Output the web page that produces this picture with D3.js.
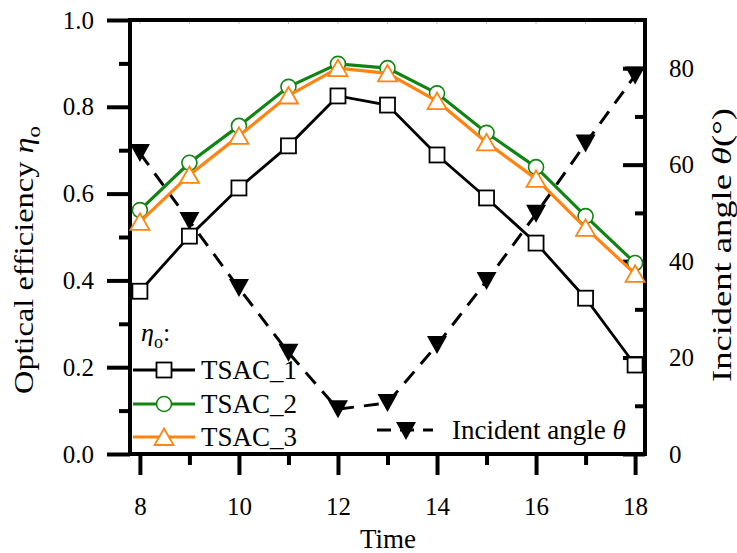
<!DOCTYPE html>
<html>
<head>
<meta charset="utf-8">
<script src="https://cdn.jsdelivr.net/npm/d3@7"></script>
<style>
  body { margin: 0; background: #fff; }
  svg { font-family: "Liberation Serif", "Times New Roman", serif; }
</style>
</head>
<body>
<svg id="chart"></svg>
<script>
// chart.js

const width = 737;
const height = 553;

// data
const times = [8, 9, 10, 11, 12, 13, 14, 15, 16, 17, 18];
const tsac1 = [0.375, 0.502, 0.613, 0.710, 0.825, 0.804, 0.689, 0.590, 0.486, 0.359, 0.205];
const tsac2 = [0.562, 0.671, 0.756, 0.846, 0.899, 0.889, 0.831, 0.740, 0.661, 0.548, 0.440];
const tsac3 = [0.535, 0.643, 0.733, 0.826, 0.889, 0.877, 0.813, 0.718, 0.634, 0.521, 0.415];
const angle = [62.4, 48.3, 34.4, 21.0, 9.3, 10.6, 22.6, 35.9, 49.8, 64.4, 78.5];

const xMajor = [8, 10, 12, 14, 16, 18];
const xMinor = [9, 11, 13, 15, 17];
const yLeftMajor = [0, 0.2, 0.4, 0.6, 0.8, 1.0];
const yLeftMinor = [0.1, 0.3, 0.5, 0.7, 0.9];
const yRightMajor = [0, 20, 40, 60, 80];
const yRightMinor = [10, 30, 50, 70];

const seriesNames = ["TSAC_1", "TSAC_2", "TSAC_3"];
const seriesColors = ["#000000", "#128412", "#ff8412"];

const plotLeft = 130, plotRight = 645, plotTop = 20, plotBottom = 454;
const serif = "'Liberation Serif', 'Times New Roman', serif";

const x = d3.scaleLinear().domain([7.8, 18.2]).range([plotLeft, plotRight]);
const yL = d3.scaleLinear().domain([0, 1]).range([plotBottom, plotTop]);
const yR = d3.scaleLinear().domain([0, 90]).range([plotBottom, plotTop]);

const svg = d3.select("#chart")
              .attr("width", width)
              .attr("height", height)
              .style("font-family", serif);

// marker shapes
const triUp = "M0,-8.5L9.5,8L-9.5,8Z";
const triDown = "M-10,-9L10,-9L0,9Z";

function styleAxis(g) {
  g.attr("font-family", null).attr("font-size", null);
  g.select(".domain").remove();
  g.selectAll(".tick line").attr("stroke", "#000").attr("stroke-width", 4);
  g.selectAll(".tick text").attr("fill", "#000")
   .style("font-size", "25px").style("font-family", serif);
}

// bottom axis
svg.append("g").attr("transform", `translate(0,${plotBottom})`)
   .call(d3.axisBottom(x).tickValues(xMajor).tickSize(21).tickPadding(22).tickFormat(d3.format("d")))
   .call(styleAxis);
svg.append("g").attr("transform", `translate(0,${plotBottom})`)
   .call(d3.axisBottom(x).tickValues(xMinor).tickSize(11).tickFormat(""))
   .call(styleAxis);

// left axis
svg.append("g").attr("transform", `translate(${plotLeft},0)`)
   .call(d3.axisLeft(yL).tickValues(yLeftMajor).tickSize(23).tickPadding(13).tickFormat(d3.format(".1f")))
   .call(styleAxis);
svg.append("g").attr("transform", `translate(${plotLeft},0)`)
   .call(d3.axisLeft(yL).tickValues(yLeftMinor).tickSize(11).tickFormat(""))
   .call(styleAxis);

// right axis (ticks inward)
svg.append("g").attr("transform", `translate(${plotRight},0)`)
   .call(d3.axisRight(yR).tickValues(yRightMajor).tickSize(-22).tickPadding(24))
   .call(styleAxis);
svg.append("g").attr("transform", `translate(${plotRight},0)`)
   .call(d3.axisRight(yR).tickValues(yRightMinor).tickSize(-10).tickFormat(""))
   .call(styleAxis);

// faint top ticks
svg.append("g").selectAll("line")
   .data(times)
   .enter().append("line")
   .attr("x1", d => x(d)).attr("x2", d => x(d))
   .attr("y1", plotTop).attr("y2", plotTop + 4)
   .attr("stroke", "#bbb").attr("stroke-width", 1);

// frame
svg.append("rect")
   .attr("x", plotLeft).attr("y", plotTop)
   .attr("width", plotRight - plotLeft).attr("height", plotBottom - plotTop)
   .attr("fill", "none").attr("stroke", "#000").attr("stroke-width", 4);

// incident angle (right axis), drawn first
const lineR = d3.line().x((d, i) => x(times[i])).y(d => yR(d));
svg.append("path")
   .datum(angle)
   .attr("d", lineR)
   .attr("fill", "none")
   .attr("stroke", "#000")
   .attr("stroke-width", 3)
   .attr("stroke-dasharray", "15,10");
svg.append("g").selectAll("path")
   .data(angle)
   .enter().append("path")
   .attr("d", triDown)
   .attr("transform", (d, i) => `translate(${x(times[i])},${yR(d)})`)
   .attr("fill", "#000");

// efficiency series
const lineL = d3.line().x((d, i) => x(times[i])).y(d => yL(d));
[tsac1, tsac2, tsac3].forEach((vals, k) => {
  svg.append("path")
     .datum(vals)
     .attr("d", lineL)
     .attr("fill", "none")
     .attr("stroke", seriesColors[k])
     .attr("stroke-width", k === 0 ? 2.8 : 3.2);
  const g = svg.append("g");
  vals.forEach((v, i) => drawMarker(g, k, x(times[i]), yL(v)));
});

function drawMarker(g, k, cx, cy) {
  if (k === 0) {
    g.append("rect").attr("x", cx - 7.5).attr("y", cy - 7.5)
     .attr("width", 15).attr("height", 15)
     .attr("fill", "#fff").attr("stroke", "#000").attr("stroke-width", 1.8);
  } else if (k === 1) {
    g.append("circle").attr("cx", cx).attr("cy", cy).attr("r", 7.5)
     .attr("fill", "#fff").attr("stroke", seriesColors[1]).attr("stroke-width", 1.6);
  } else {
    g.append("path").attr("d", triUp)
     .attr("transform", `translate(${cx},${cy})`)
     .attr("fill", "#fff").attr("stroke", seriesColors[2]).attr("stroke-width", 1.8);
  }
}

// legend
const legend = svg.append("g");
const eta = legend.append("text").attr("x", 141).attr("y", 341).style("font-size", "26px");
eta.append("tspan").text("η").style("font-style", "italic");
eta.append("tspan").text("o").attr("dy", 7).style("font-size", "18px");
eta.append("tspan").text(":").attr("dy", -7);

const legendY = [370, 404, 437];
seriesNames.forEach((name, k) => {
  legend.append("line")
        .attr("x1", 133).attr("x2", 195)
        .attr("y1", legendY[k]).attr("y2", legendY[k])
        .attr("stroke", seriesColors[k]).attr("stroke-width", k === 0 ? 2.8 : 3.2);
  drawMarker(legend, k, 164, legendY[k]);
  legend.append("text")
        .attr("x", 201).attr("y", legendY[k] + 9)
        .style("font-size", "27px")
        .text(name);
});

legend.append("line")
      .attr("x1", 377).attr("x2", 433).attr("y1", 430).attr("y2", 430)
      .attr("stroke", "#000").attr("stroke-width", 3).attr("stroke-dasharray", "14,9");
legend.append("path").attr("d", triDown)
      .attr("transform", "translate(406,431)").attr("fill", "#000");
const angLbl = legend.append("text").attr("x", 452).attr("y", 439).style("font-size", "27px");
angLbl.append("tspan").text("Incident angle ");
angLbl.append("tspan").text("θ").style("font-style", "italic");

// axis titles
svg.append("text")
   .attr("x", 388).attr("y", 548)
   .attr("text-anchor", "middle")
   .style("font-size", "27px")
   .text("Time");

const yTitle = svg.append("text")
   .attr("transform", "translate(33,260) rotate(-90)")
   .attr("text-anchor", "middle")
   .style("font-size", "27px")
   .attr("textLength", 268).attr("lengthAdjust", "spacingAndGlyphs");
yTitle.append("tspan").text("Optical efficiency ");
yTitle.append("tspan").text("η").style("font-style", "italic");
yTitle.append("tspan").text("o").attr("dy", 7).style("font-size", "19px");

const rTitle = svg.append("text")
   .attr("transform", "translate(731,245) rotate(-90)")
   .attr("text-anchor", "middle")
   .style("font-size", "27px")
   .attr("textLength", 274).attr("lengthAdjust", "spacingAndGlyphs");
rTitle.append("tspan").text("Incident angle ");
rTitle.append("tspan").text("θ").style("font-style", "italic");
rTitle.append("tspan").text("(°)");
</script>
</body>
</html>
